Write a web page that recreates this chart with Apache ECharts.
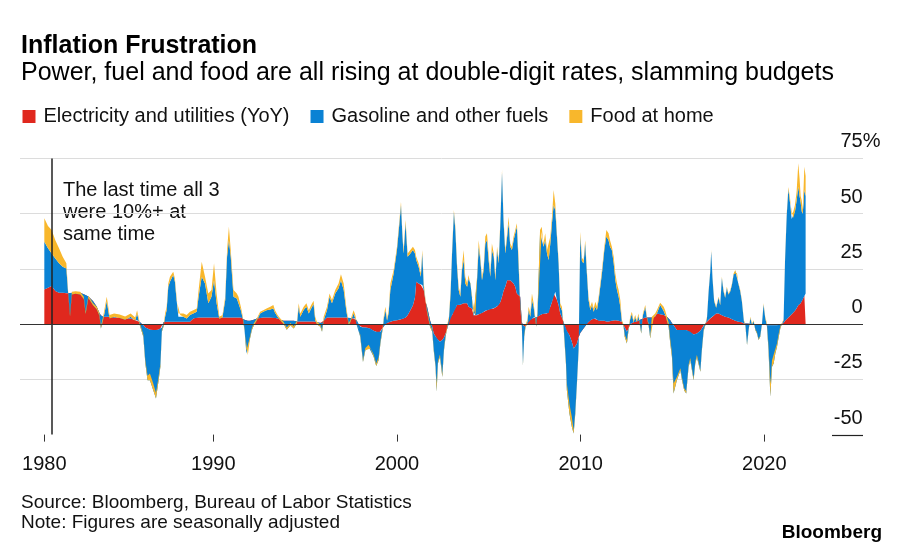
<!DOCTYPE html>
<html>
<head>
<meta charset="utf-8">
<script src="https://cdn.jsdelivr.net/npm/echarts@6/dist/echarts.min.js"></script>
<style>
html,body{margin:0;padding:0;background:#fff;}
#chart{width:908px;height:553px;}
</style>
</head>
<body>
<div id="chart"></div>
<script>
// ---- data (decimal years; YoY % contributions, stacked) ----
const years = [
1980.80,1981.00,1981.20,1981.40,1981.60,1981.80,1982.00,1982.10,1982.20,1982.30,1982.50,1982.75,1982.95,1983.05,1983.20,1983.45,1983.65,1983.80,1983.88,
1984.00,1984.20,1984.35,1984.60,1984.90,1985.20,1985.50,1985.75,1985.85,1986.00,1986.19,1986.30,1986.42,1986.55,1986.73,1986.88,1987.00,1987.12,1987.20,
1987.30,1987.38,1987.46,1987.55,1987.64,1987.82,1987.91,1988.00,1988.10,1988.20,1988.37,1988.55,1988.73,1988.91,1989.10,1989.20,1989.37,1989.55,1989.73,1989.90,
1990.04,1990.18,1990.33,1990.50,1990.65,1990.75,1990.85,1990.95,1991.10,1991.28,1991.37,1991.50,1991.60,1991.70,1991.80,1991.88,1992.00,1992.10,1992.20,1992.37,
1992.55,1992.72,1992.90,1993.10,1993.27,1993.36,1993.50,1993.65,1993.83,1994.00,1994.20,1994.38,1994.56,1994.65,1994.74,1994.92,1995.07,1995.20,1995.33,1995.46,
1995.55,1995.64,1995.83,1995.92,1996.01,1996.19,1996.33,1996.46,1996.64,1996.82,1996.95,1997.10,1997.24,1997.37,1997.46,1997.64,1997.73,1997.82,1997.90,
1998.00,1998.15,1998.28,1998.46,1998.55,1998.73,1998.87,1999.00,1999.10,1999.24,1999.28,1999.37,1999.46,1999.55,1999.64,1999.82,
2000.00,2000.15,2000.22,2000.29,2000.36,2000.47,2000.58,2000.73,2000.87,2000.98,2001.05,2001.18,2001.30,2001.38,2001.46,2001.56,2001.64,2001.80,2001.92,
2002.00,2002.10,2002.16,2002.23,2002.34,2002.47,2002.56,2002.65,2002.74,2002.83,2002.92,2003.00,2003.10,2003.18,2003.27,2003.36,2003.45,2003.54,2003.63,2003.72,2003.82,2003.90,
2004.00,2004.08,2004.17,2004.27,2004.36,2004.45,2004.54,2004.63,2004.72,2004.81,2004.90,2005.00,2005.08,2005.17,2005.27,2005.36,2005.45,2005.54,2005.63,2005.72,2005.80,2005.90,
2006.00,2006.08,2006.17,2006.26,2006.35,2006.44,2006.53,2006.62,2006.71,2006.80,2006.86,2006.93,2007.00,2007.10,2007.17,2007.26,2007.35,2007.44,2007.58,2007.65,2007.79,2007.88,2007.98,
2008.07,2008.17,2008.26,2008.35,2008.44,2008.53,2008.62,2008.71,2008.80,2008.89,2008.98,2009.07,2009.20,2009.25,2009.39,2009.52,2009.62,2009.71,2009.80,2009.89,2009.98,
2010.07,2010.16,2010.25,2010.34,2010.43,2010.53,2010.62,2010.71,2010.80,2010.89,2010.98,2011.07,2011.16,2011.29,2011.40,2011.52,2011.60,2011.70,2011.80,2011.89,2011.98,
2012.07,2012.16,2012.25,2012.34,2012.40,2012.52,2012.61,2012.70,2012.79,2012.88,2012.97,2013.06,2013.15,2013.24,2013.30,2013.39,2013.52,2013.61,2013.70,2013.79,2013.88,2013.97,
2014.06,2014.15,2014.33,2014.42,2014.52,2014.60,2014.70,2014.79,2014.88,2014.97,2015.06,2015.24,2015.43,2015.52,2015.64,2015.75,2015.88,2015.97,
2016.15,2016.24,2016.33,2016.42,2016.52,2016.60,2016.70,2016.79,2016.88,2016.97,2017.06,2017.11,2017.18,2017.27,2017.38,2017.51,2017.60,2017.69,2017.78,2017.87,2017.96,
2018.05,2018.15,2018.24,2018.33,2018.42,2018.51,2018.60,2018.69,2018.78,2018.89,2018.97,2019.06,2019.15,2019.24,2019.33,2019.42,2019.51,2019.60,2019.69,2019.78,2019.87,2019.96,
2020.05,2020.14,2020.23,2020.33,2020.42,2020.51,2020.60,2020.69,2020.78,2020.87,2020.96,2021.05,2021.13,2021.22,2021.31,2021.40,2021.49,2021.58,2021.67,2021.76,2021.85,2021.92,2021.98,
2022.04,2022.09,2022.14,2022.18,2022.25
];
const electricity = [
15.7,16.5,17.2,15.0,14.2,14.2,14.0,14.0,14.0,14.2,14.2,14.2,13.5,13.2,12.5,10.5,8.0,5.0,4.0,
3.3,3.3,3.3,3.0,3.0,2.6,2.5,1.8,1.8,1.0,-0.5,-1.5,-2.0,-2.5,-2.7,-2.7,-2.5,-2.0,-1.5,
1.0,1.1,1.1,1.1,1.1,1.1,1.1,1.1,1.1,1.1,1.1,1.1,1.1,2.6,3.0,3.0,3.0,3.0,3.0,3.0,
3.0,3.0,3.0,3.0,3.0,3.0,3.0,3.0,3.0,3.0,3.0,3.0,2.6,2.0,1.5,1.5,1.5,1.5,2.0,2.6,
2.8,3.0,3.0,3.0,3.0,2.8,2.6,2.0,1.5,1.5,1.5,1.5,1.2,1.2,1.2,1.2,1.2,1.2,1.2,1.2,
1.0,0.8,0.5,0.5,1.5,3.0,3.0,3.0,3.0,3.0,3.0,3.0,3.0,2.8,2.8,2.6,2.5,1.5,-0.5,
-1.2,-1.5,-1.5,-1.8,-2.0,-3.0,-3.5,-4.2,-3.5,-1.5,-1.0,0.3,0.5,0.8,1.1,1.5,
1.8,2.0,2.2,2.4,2.6,3.0,4.0,6.3,8.5,12.0,19.2,18.4,17.7,17.7,15.4,10.0,7.9,1.8,-1.2,
-4.2,-5.5,-6.5,-7.0,-8.0,-7.2,-6.0,-4.2,-2.0,2.6,2.6,4.0,6.3,7.0,8.6,8.6,8.8,9.4,9.4,9.4,9.4,7.9,
7.1,7.1,4.0,4.0,4.0,4.5,4.8,5.0,5.5,6.0,6.3,6.5,7.0,7.0,7.1,7.5,8.0,8.6,10.0,12.4,15.0,17.0,
19.9,20.7,19.9,19.2,18.4,16.9,13.9,13.0,12.4,1.0,-0.5,-1.2,-1.2,0.3,1.8,1.8,2.6,3.0,3.0,3.3,4.1,4.5,4.8,
4.8,4.8,5.0,7.9,10.0,13.9,14.6,11.0,8.6,4.8,3.0,1.0,-2.7,-3.0,-5.0,-8.0,-11.0,-10.0,-8.8,-6.0,-4.0,
-3.0,-2.0,-1.0,0.3,1.0,1.8,2.2,2.5,2.5,2.0,1.5,1.5,1.5,1.5,1.2,1.2,1.5,1.5,1.8,1.8,1.5,
1.5,1.1,1.1,-0.5,-1.5,-3.5,-2.0,0.0,0.5,0.8,1.0,1.2,1.5,2.0,2.3,2.6,3.0,3.0,3.0,3.0,3.0,3.3,
3.5,4.8,4.5,4.5,4.1,4.1,3.3,2.6,1.8,0.5,-0.5,-2.7,-2.7,-2.7,-2.7,-2.7,-3.5,-3.5,
-4.7,-4.5,-4.2,-3.5,-3.0,-2.0,-0.5,0.3,1.1,2.0,2.5,3.0,3.3,4.0,4.8,4.8,4.1,4.0,3.5,3.3,3.3,
3.0,2.6,2.2,1.8,1.5,1.1,1.1,1.1,0.8,0.3,0.3,0.3,0.3,0.2,0.2,0.1,0.0,0.0,0.0,0.0,0.0,0.0,
-0.2,-0.5,-0.5,-0.5,-0.5,-0.5,-0.5,-0.5,-0.3,-0.2,0.0,0.5,1.5,2.2,3.0,3.8,4.5,5.2,6.0,7.2,8.5,9.0,9.5,
10.5,11.0,12.0,13.0,13.9
];
const gasoline = [
21.6,17.8,14.8,14.7,13.3,11.8,11.2,-0.4,-10.5,-0.8,-0.5,-0.8,-2.1,-8.6,-0.7,-2.0,-1.3,-1.2,-6.0,
-1.5,7.1,-0.7,0.3,-0.2,-0.6,0.8,-0.3,3.0,-1.5,-5.2,-16.3,-23.4,-22.9,-27.2,-31.0,-24.4,-17.3,-2.0,
-1.8,2.4,5.2,15.8,18.1,21.1,18.1,9.8,2.2,3.0,2.2,1.5,3.0,2.2,2.6,9.4,18.4,15.4,6.4,9.4,
16.9,6.4,-0.7,0.1,7.9,27.5,35.0,27.5,9.4,8.6,6.4,3.3,0.2,-4.7,-14.8,-15.5,-8.0,-4.2,-2.7,-1.0,
2.0,2.6,3.3,3.6,4.1,2.3,0.7,-0.4,-1.5,-4.0,-2.0,-3.5,-0.7,6.7,2.1,5.2,6.7,3.6,5.9,7.9,
0.8,-0.9,-1.7,-4.0,0.3,3.3,9.4,6.4,10.9,13.2,16.9,12.4,3.3,-3.3,-2.0,2.2,0.1,-2.2,-1.0,
-4.5,-15.6,-10.3,-8.5,-9.0,-11.8,-15.5,-12.1,-5.3,0.3,3.3,6.0,1.1,4.3,14.3,21.4,
31.7,45.1,51.7,38.7,29.4,42.6,26.5,25.7,25.0,20.0,9.8,7.6,3.7,14.3,1.5,0.1,-2.6,-3.0,-2.3,
-7.6,-13.8,-24.1,-10.8,-6.8,-16.7,-5.8,-1.5,0.8,-0.3,11.3,28.0,44.3,35.6,17.4,6.8,3.6,15.1,19.6,9.0,7.5,12.8,
11.3,5.3,-0.9,-0.2,15.9,30.5,24.2,14.9,19.0,30.5,31.7,21.7,14.4,26.5,23.4,12.4,25.5,18.9,35.6,56.3,32.1,15.0,
19.7,24.9,15.1,14.3,19.6,24.2,30.2,14.5,-4.5,-2.2,-18.1,-4.5,0.0,0.7,4.5,1.5,8.3,4.9,-4.2,1.5,37.0,37.3,30.2,
33.2,27.2,24.0,28.6,35.6,40.0,37.0,28.6,18.9,3.1,3.3,-2.2,-15.1,-26.9,-35.5,-38.5,-38.5,-30.5,-18.1,-5.8,43.6,
31.5,29.5,37.5,22.7,10.0,4.5,6.4,3.1,5.4,4.4,9.4,15.4,21.4,32.0,38.4,36.8,33.5,32.0,25.7,18.1,13.9,
10.9,6.8,-0.3,-0.7,-4.2,-5.3,-0.7,2.3,4.1,0.0,2.1,-0.2,2.3,-3.2,-6.5,1.4,4.6,-0.5,-3.5,-9.5,-0.5,-0.8,
0.3,0.0,4.1,2.9,1.8,0.2,-2.0,-3.8,-10.6,-15.3,-30.9,-22.7,-18.3,-22.7,-27.3,-28.7,-15.8,-12.8,
-20.7,-13.5,-10.8,-14.5,-18.6,-10.0,-2.5,-0.8,1.7,12.9,21.5,30.0,17.6,6.4,2.6,7.1,4.5,16.9,11.4,8.6,13.1,
10.4,12.3,15.7,20.6,22.5,22.1,16.8,13.8,9.6,1.0,-0.8,-9.8,-3.0,2.6,-0.4,1.2,-2.7,-4.2,-7.2,-5.7,-0.2,8.9,
3.0,0.0,-11.3,-32.4,-18.8,-17.3,-12.8,-9.8,-5.7,-1.8,0.0,1.2,27.5,46.8,58.0,51.2,43.1,42.8,45.0,48.8,53.7,49.0,45.5,
40.5,39.0,43.0,47.7,44.1
];
const food = [
10.6,10.1,10.6,8.3,6.8,4.5,2.3,1.0,1.0,1.2,1.2,1.2,1.0,1.0,1.0,1.0,1.2,1.2,1.0,
1.5,2.0,1.5,1.5,1.5,1.5,1.5,1.5,1.5,1.0,1.0,1.5,2.0,3.0,3.0,2.5,2.0,1.5,1.0,
0.8,1.5,1.6,1.5,2.2,1.5,1.5,1.5,1.5,1.5,1.5,1.5,1.5,1.5,1.5,3.0,6.8,3.0,4.5,3.0,
7.6,4.5,1.0,1.0,1.5,3.0,6.1,3.0,3.0,2.3,3.0,1.6,1.0,1.0,1.0,1.0,1.0,1.0,1.0,1.0,
0.8,0.7,0.8,1.3,1.5,1.2,0.8,1.0,1.0,1.0,1.0,1.0,1.0,1.5,1.5,1.5,1.5,1.5,1.5,1.5,
1.5,1.2,1.0,1.0,1.5,1.6,1.5,1.5,1.5,2.2,2.7,3.0,1.6,1.0,1.0,1.5,1.5,1.0,1.0,
1.0,1.0,1.0,1.0,1.0,1.0,1.2,1.2,1.0,1.0,1.0,1.6,1.0,1.2,3.0,1.6,
1.5,1.5,1.5,1.5,1.5,1.5,1.5,1.5,1.5,1.5,1.5,1.5,1.5,1.5,1.5,0.8,1.0,1.0,1.0,
1.0,1.0,3.7,1.0,1.0,1.5,1.0,1.0,1.0,1.0,1.5,1.5,1.0,1.5,1.5,1.5,1.5,1.5,4.5,3.0,1.5,1.5,
3.0,1.5,1.0,1.0,1.5,3.0,1.5,1.5,1.5,3.1,3.1,2.3,1.5,3.0,1.5,1.5,1.5,1.5,1.5,1.0,1.5,1.5,
1.5,3.0,1.5,1.5,1.6,1.5,1.5,3.0,1.5,1.0,1.0,1.0,1.0,1.0,1.6,1.5,3.0,1.5,1.0,1.5,1.5,2.3,1.5,
3.1,1.5,4.5,3.1,3.0,6.8,3.0,1.5,1.5,1.5,1.6,1.0,1.5,3.0,4.5,4.5,1.5,1.5,1.0,1.0,2.2,
1.5,1.5,1.5,1.5,1.4,1.6,1.5,1.5,2.2,1.5,1.5,1.5,1.6,1.5,3.0,3.1,3.0,1.5,3.0,3.0,3.0,
3.0,3.0,1.0,1.0,1.0,1.6,1.0,1.0,1.0,1.0,1.0,0.8,1.0,0.8,0.8,0.8,1.0,0.8,0.8,0.8,0.8,0.8,
1.0,1.5,1.1,2.0,2.0,2.0,2.0,2.0,2.0,2.0,4.5,1.5,1.0,1.0,1.0,1.0,1.0,1.0,
1.0,1.0,1.0,1.0,0.8,0.8,0.8,0.5,0.5,0.5,0.5,0.5,0.5,0.5,0.5,0.5,0.8,0.5,0.5,0.5,0.5,
0.5,0.5,0.5,0.5,0.5,0.5,0.5,0.5,0.5,0.5,0.5,0.7,0.5,0.5,0.5,0.5,0.5,0.5,0.5,0.5,0.5,0.5,
0.5,1.0,2.0,6.0,3.0,1.5,2.0,1.5,1.5,1.0,0.5,0.5,1.0,1.0,1.0,2.0,1.8,3.0,2.9,4.0,10.6,8.0,3.0,
5.0,1.6,7.0,10.5,9.0
];
const seriesNames = ['Electricity and utilities (YoY)', 'Gasoline and other fuels', 'Food at home'];
const seriesColors = ['#e0281e', '#0a82d4', '#f8b72c'];
const xTickValues = [1980.8, 1990, 2000, 2010, 2020];
const xTickLabels = ['1980', '1990', '2000', '2010', '2020'];
const yTickValues = [-50, -25, 0, 25, 50, 75];
const yTickLabels = ['-50', '-25', '0', '25', '50', '75%'];
const annotationYear = 1981.2;
const annotationText = 'The last time all 3\nwere 10%+ at\nsame time';
const X_MIN = 1979.476, X_MAX = 2025.374;

const FONT = '"Liberation Sans", Arial, Helvetica, sans-serif';
const chart = echarts.init(document.getElementById('chart'), null, {renderer: 'canvas'});

// data rows are [value, year]; encode maps column 1 to x so that stacking happens on the value column
function mkSeries(idx, arr) {
  return {
    name: seriesNames[idx],
    type: 'line',
    stack: 'total',
    stackStrategy: 'all',
    data: years.map((y, i) => [arr[i], y]),
    encode: {x: 1, y: 0},
    symbol: 'none',
    showSymbol: false,
    lineStyle: {width: 0, opacity: 0},
    itemStyle: {color: seriesColors[idx]},
    areaStyle: {color: seriesColors[idx], opacity: 1},
    emphasis: {disabled: true},
    silent: true,
    z: 2
  };
}
const sElec = mkSeries(0, electricity);
const sGas = mkSeries(1, gasoline);
const sFood = mkSeries(2, food);
sElec.markLine = {
  silent: true, symbol: 'none', animation: false,
  label: {show: false},
  lineStyle: {color: '#222', width: 1.5, type: 'solid'},
  data: [{xAxis: annotationYear}]
};
sFood.markLine = {
  silent: true, symbol: 'none', animation: false,
  label: {show: false},
  lineStyle: {color: '#333', width: 1.2, type: 'solid'},
  data: [{yAxis: 0}]
};

const option = {
  animation: false,
  backgroundColor: '#fff',
  textStyle: {fontFamily: FONT},
  grid: {left: 20, right: 45, top: 158.4, bottom: 118.4, containLabel: false, outerBoundsMode: 'none'},
  legend: {
    left: 22.5, top: 106.5, padding: 0,
    icon: 'rect', itemWidth: 13, itemHeight: 13, itemGap: 21,
    textStyle: {fontFamily: FONT, fontSize: 20, color: '#111', padding: [0, 0, 0, 3]},
    data: seriesNames.map((n, i) => ({name: n, itemStyle: {color: seriesColors[i]}})),
    selectedMode: false
  },
  xAxis: {
    type: 'value',
    min: X_MIN, max: X_MAX,
    axisLine: {show: false, onZero: false},
    splitLine: {show: false},
    axisTick: {show: true, customValues: xTickValues, length: 7, lineStyle: {color: '#333', width: 1}},
    axisLabel: {
      customValues: xTickValues,
      fontFamily: FONT, fontSize: 20, color: '#111', margin: 19.5,
      formatter: function (v) {
        const i = xTickValues.findIndex(t => Math.abs(t - v) < 1e-6);
        return i >= 0 ? xTickLabels[i] : '';
      }
    }
  },
  yAxis: {
    type: 'value',
    position: 'right',
    min: -50, max: 75, interval: 25,
    axisLine: {show: false},
    axisTick: {show: false},
    splitLine: {show: true, lineStyle: {color: ['rgba(0,0,0,0)', '#dcdcdc', '#333', '#dcdcdc', '#dcdcdc', '#dcdcdc'], width: 1}},
    axisLabel: {
      margin: 17.5,
      align: 'right',
      verticalAlign: 'bottom',
      padding: [0, 0, 6.5, 0],
      formatter: function (v) {
        const i = yTickValues.indexOf(v);
        const t = i >= 0 ? yTickLabels[i] : String(v);
        return t.endsWith('%') ? '{n|' + t.slice(0, -1) + '}{p|%}' : '{n|' + t + '}{h|%}';
      },
      rich: {
        n: {fontFamily: FONT, fontSize: 20, color: '#111'},
        p: {fontFamily: FONT, fontSize: 20, color: '#111'},
        h: {fontFamily: FONT, fontSize: 20, color: 'rgba(0,0,0,0)'}
      }
    }
  },
  graphic: [
    {type: 'text', id: 'title', left: 21, top: 34, style: {text: 'Inflation Frustration', font: 'bold 25px ' + FONT, fill: '#000'}},
    {type: 'text', id: 'sub', left: 21, top: 61, style: {text: 'Power, fuel and food are all rising at double-digit rates, slamming budgets', font: '25px ' + FONT, fill: '#000'}},
    {type: 'text', id: 'ann', left: 63, top: 179, style: {text: annotationText, font: '20px ' + FONT, fill: '#111', lineHeight: 22}},
    {type: 'text', id: 'src', left: 21, top: 493.5, style: {text: 'Source: Bloomberg, Bureau of Labor Statistics', font: '19px ' + FONT, fill: '#111'}},
    {type: 'text', id: 'note', left: 21, top: 513.5, style: {text: 'Note: Figures are seasonally adjusted', font: '19px ' + FONT, fill: '#111'}},
    {type: 'text', id: 'logo', right: 26, top: 523, style: {text: 'Bloomberg', font: 'bold 19px ' + FONT, fill: '#000'}}
  ],
  series: [sElec, sGas, sFood]
};
chart.setOption(option);

// short rule under the "-50" label, positioned through the axes
const yMinPx = chart.convertToPixel({yAxisIndex: 0}, -50);
const xRightPx = chart.convertToPixel({xAxisIndex: 0}, X_MAX);
chart.setOption({
  graphic: [{
    type: 'line', id: 'minRule', silent: true,
    shape: {x1: xRightPx - 31, y1: Math.round(yMinPx) + 0.5, x2: xRightPx, y2: Math.round(yMinPx) + 0.5},
    style: {stroke: '#222', lineWidth: 1.2}
  }]
});
</script>
</body>
</html>
